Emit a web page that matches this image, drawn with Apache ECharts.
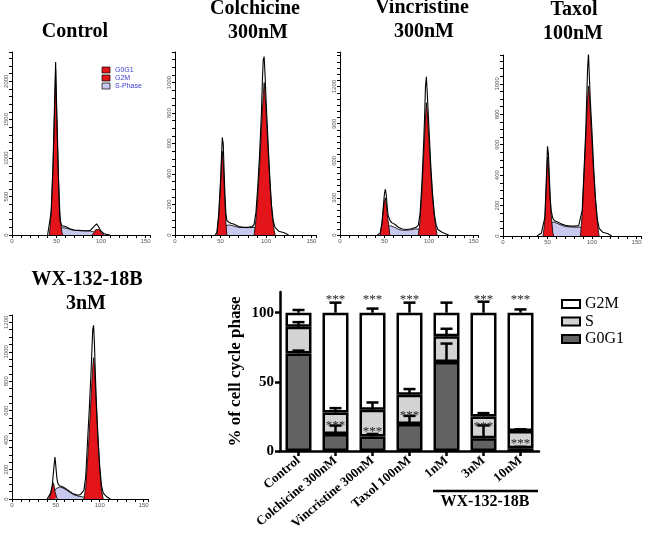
<!DOCTYPE html>
<html><head><meta charset="utf-8">
<script src="https://cdn.jsdelivr.net/npm/echarts@6/dist/echarts.min.js"></script>
<style>html,body{margin:0;padding:0;background:#fff}#c{width:648px;height:535px}</style>
</head><body><div id="c"></div>
<script>
// ---------- Histogram data: [DNA channel, count] ----------
var ctrlTotal = [[40,0],[42,20],[44,300],[46,900],[48,1800],[49,2250],[50,1750],[52,850],[53,400],[54,180],[56,120],[60,110],[65,80],[70,65],[75,60],[80,55],[85,55],[88,60],[90,70],[92,110],[95,145],[97,110],[100,50],[103,20],[106,8],[110,0]];
var ctrlG0G1 = [[42,0],[44,300],[46,850],[48,1700],[49,2150],[50,1650],[52,800],[54,250],[56,40],[57,0]];
var ctrlG2M = [[90,0],[92,30],[94,70],[96,95],[98,70],[100,35],[102,10],[103,0]];
var ctrlS = [[49,0],[51,50],[54,85],[57,95],[62,85],[66,70],[70,60],[80,55],[88,52],[92,40],[96,20],[99,0]];

var colTotal = [[44,0],[46,15],[48,130],[50,350],[51,500],[52,640],[53,600],[54,420],[55,250],[56,140],[57,95],[60,80],[65,70],[70,55],[75,50],[80,50],[85,55],[87,70],[89,150],[91,320],[93,530],[95,800],[96,1000],[97,1150],[98,1170],[99,1050],[100,900],[102,650],[104,400],[106,200],[108,90],[110,50],[114,25],[120,15],[125,0]];
var colG0G1 = [[46,0],[48,120],[50,320],[51,450],[52,550],[53,480],[54,330],[55,200],[56,80],[57,0]];
var colG2M = [[87,0],[89,100],[91,250],[93,450],[95,700],[97,920],[98,1000],[99,920],[101,700],[103,480],[105,280],[107,120],[109,30],[110,0]];
var colS = [[51,0],[53,40],[56,62],[60,66],[65,58],[70,50],[80,48],[87,50],[91,45],[95,30],[99,10],[102,0]];

var vinTotal = [[42,0],[45,15],[47,90],[49,260],[50,340],[51,370],[52,320],[53,230],[54,160],[56,120],[58,100],[62,85],[66,60],[70,48],[75,45],[80,50],[85,60],[88,80],[90,180],[92,420],[94,750],[95,950],[96,1200],[97,1280],[98,1150],[99,1000],[100,850],[102,560],[104,330],[106,170],[108,80],[110,45],[115,20],[122,0]];
var vinG0G1 = [[45,0],[47,80],[49,220],[50,280],[51,300],[52,250],[53,170],[55,60],[56,0]];
var vinG2M = [[88,0],[90,120],[92,350],[94,650],[96,950],[97,1070],[98,1000],[100,750],[102,500],[104,300],[106,150],[108,50],[109,0]];
var vinS = [[48,0],[51,40],[54,70],[57,75],[62,60],[66,45],[70,38],[78,40],[85,50],[90,45],[95,25],[100,8],[102,0]];

var taxTotal = [[38,0],[40,10],[43,18],[45,25],[47,120],[49,430],[50,590],[51,540],[52,400],[53,250],[54,170],[56,115],[58,100],[62,90],[66,78],[70,70],[75,65],[80,65],[85,68],[87,80],[89,170],[91,430],[93,700],[94,900],[95,1100],[96,1200],[97,1050],[98,900],[100,680],[102,430],[104,240],[106,110],[108,50],[112,25],[118,15],[122,0]];
var taxG0G1 = [[45,0],[47,100],[49,380],[50,520],[51,470],[52,350],[54,150],[56,20],[57,0]];
var taxG2M = [[87,0],[89,150],[91,400],[93,650],[95,900],[96,985],[97,930],[99,720],[101,500],[103,300],[105,150],[107,40],[108,0]];
var taxS = [[49,0],[51,50],[54,85],[57,92],[62,80],[66,70],[70,62],[80,58],[88,58],[92,45],[96,30],[100,10],[102,0]];

var wxTotal = [[40,0],[42,10],[44,40],[46,100],[48,230],[49,285],[50,220],[51,150],[52,110],[54,90],[57,85],[60,75],[65,55],[70,35],[75,25],[78,30],[80,40],[82,60],[84,150],[86,380],[88,600],[90,850],[91,1000],[92,1150],[93,1180],[94,1050],[95,850],[96,680],[98,420],[100,220],[102,90],[104,40],[108,15],[112,0]];
var wxG0G1 = [[42,0],[44,30],[46,80],[47,110],[48,90],[49,50],[51,10],[52,0]];
var wxG2M = [[82,0],[84,80],[86,250],[88,450],[90,680],[92,900],[93,960],[94,900],[96,650],[98,400],[100,200],[102,60],[104,0]];
var wxS = [[44,0],[47,40],[50,70],[54,82],[58,75],[62,60],[66,45],[70,30],[75,20],[80,15],[84,8],[88,0]];

// ---------- Bar chart data ----------
var categories = ['Control','Colchicine 300nM','Vincristine 300nM','Taxol 100nM','1nM','3nM','10nM'];
var g0g1 = [70.5, 12.3, 10.4, 19.6, 64.4, 9.2, 2.0];
var g0g1Err = [2.1, 6.1, 1.9, 5.8, 13.3, 9.3, 1.0];
var sPhase = [19.3, 15.5, 19.4, 21.1, 18.6, 15.8, 12.5];
var sErr = [3.4, 3.2, 5.3, 4.1, 5.4, 2.4, 1.2];
var g2m = [10.2, 72.2, 70.2, 59.3, 17.0, 75.0, 85.5];
var g2mErr = [2.0, 7.3, 3.0, 7.3, 7.3, 8.0, 2.4];
var topStarIdx = [1, 2, 3, 5, 6];
var topStarVal = [111.5, 111.5, 111.5, 111.5, 111.5];
var innerStarIdx = [1, 2, 3, 5, 6];
var innerStarVal = [20.6, 16.3, 27.9, 19.6, 7.6];
var yTicks = [0, 50, 100];

// ---------- Layout ----------
var SERIF = '"Liberation Serif","Times New Roman",serif';
var panels = [
  {grid:{left:12,top:52,width:138,height:183}, ymax:2380, yint:500, ysplit:5, d:[ctrlS, ctrlG0G1, ctrlG2M, ctrlTotal]},
  {grid:{left:175,top:52,width:141,height:183}, ymax:1200, yint:200, ysplit:4, d:[colS, colG0G1, colG2M, colTotal]},
  {grid:{left:340,top:52,width:138,height:183}, ymax:1480, yint:300, ysplit:6, d:[vinS, vinG0G1, vinG2M, vinTotal]},
  {grid:{left:503,top:55,width:138,height:181}, ymax:1190, yint:200, ysplit:4, d:[taxS, taxG0G1, taxG2M, taxTotal]},
  {grid:{left:12,top:315,width:136,height:184}, ymax:1250, yint:200, ysplit:4, d:[wxS, wxG0G1, wxG2M, wxTotal]}
];
var titles = [
  ['Control', 75, 32], ['Colchicine', 255, 9], ['300nM', 258, 33],
  ['Vincristine', 422, 8], ['300nM', 424, 32], ['Taxol', 574, 10], ['100nM', 573, 34],
  ['WX-132-18B', 87, 280], ['3nM', 86, 304]
];

var grids = [], xAxes = [], yAxes = [], series = [];
panels.forEach(function(p, i){
  grids.push(p.grid);
  xAxes.push({type:'value', gridIndex:i, min:0, max:155, interval:50,
    axisLine:{show:true, lineStyle:{color:'#000', width:1}},
    axisTick:{show:true, length:3, lineStyle:{color:'#000', width:1}},
    minorTick:{show:true, splitNumber:5, length:3, lineStyle:{color:'#000', width:1}},
    splitLine:{show:false},
    axisLabel:{fontSize:6, color:'#555', margin:3, showMaxLabel:false, fontFamily:'Arial',
      formatter:function(v){ return String(v); }}});
  yAxes.push({type:'value', gridIndex:i, min:0, max:p.ymax, interval:p.yint,
    axisLine:{show:true, lineStyle:{color:'#000', width:1}},
    axisTick:{show:true, length:3, lineStyle:{color:'#000', width:1}},
    minorTick:{show:true, splitNumber:p.ysplit, length:3, lineStyle:{color:'#000', width:1}},
    splitLine:{show:false},
    axisLabel:{fontSize:6, color:'#555', margin:3, rotate:90, showMaxLabel:false, fontFamily:'Arial',
      formatter:function(v){ return String(v); }}});
  var fills = ['#c9c9ef', '#e3151b', '#e3151b', null];
  p.d.forEach(function(arr, k){
    var s = {type:'line', xAxisIndex:i, yAxisIndex:i, data:arr, symbol:'none', silent:true,
      lineStyle:{color:'#000', width: k===3 ? 1.1 : 0.8}, z: 2 + k};
    if (fills[k]) s.areaStyle = {color:fills[k], opacity:1};
    series.push(s);
  });
});

// bar chart grid
var bi = panels.length;
grids.push({left:280, top:292, width:259, height:159});
xAxes.push({type:'category', gridIndex:bi, data:categories,
  axisLine:{lineStyle:{color:'#000', width:2.5}},
  axisTick:{show:true, alignWithLabel:true, length:5, lineStyle:{color:'#000', width:2.5}},
  axisLabel:{rotate:40, interval:0, fontFamily:SERIF, fontWeight:'bold', fontSize:13, color:'#000', margin:8}});
yAxes.push({type:'value', gridIndex:bi, min:0, max:115, interval:50,
  name:'% of cell cycle phase', nameLocation:'middle', nameGap:36,
  nameTextStyle:{fontFamily:SERIF, fontWeight:'bold', fontSize:17, color:'#000'},
  axisLine:{show:true, lineStyle:{color:'#000', width:2.5}},
  axisTick:{show:true, length:5, lineStyle:{color:'#000', width:2.5}},
  splitLine:{show:false},
  axisLabel:{fontFamily:SERIF, fontWeight:'bold', fontSize:15, color:'#000', margin:6, showMaxLabel:false,
    formatter:function(v){ return yTicks.indexOf(v) >= 0 ? String(v) : ''; }}});

function barSeries(name, data, color){
  return {type:'bar', name:name, stack:'cc', xAxisIndex:bi, yAxisIndex:bi, data:data, barWidth:26,
    itemStyle:{color:color, borderColor:'#000', borderWidth:2.5}, silent:true, z:3};
}
series.push(barSeries('G0G1', g0g1, '#626262'));
series.push(barSeries('S', sPhase, '#d3d3d3'));
series.push(barSeries('G2M', g2m, '#ffffff'));

var errData = [];
categories.forEach(function(c, i){
  var t1 = g0g1[i], t2 = g0g1[i] + sPhase[i], t3 = t2 + g2m[i];
  errData.push([i, t1, t1 + g0g1Err[i]]);
  errData.push([i, t2, t2 + sErr[i]]);
  errData.push([i, t3, t3 + g2mErr[i]]);
});
series.push({type:'custom', xAxisIndex:bi, yAxisIndex:bi, data:errData, silent:true, z:5,
  renderItem:function(params, api){
    var x = api.value(0);
    var p0 = api.coord([x, api.value(1)]), p1 = api.coord([x, api.value(2)]);
    var hw = 6;
    return {type:'group', children:[
      {type:'line', shape:{x1:p0[0], y1:p0[1], x2:p1[0], y2:p1[1]}, style:{stroke:'#000', lineWidth:2.5}},
      {type:'line', shape:{x1:p1[0]-hw, y1:p1[1], x2:p1[0]+hw, y2:p1[1]}, style:{stroke:'#000', lineWidth:2.5}}
    ]};
  }});

var starData = [];
topStarIdx.forEach(function(c, i){ starData.push([c, topStarVal[i]]); });
innerStarIdx.forEach(function(c, i){ starData.push([c, innerStarVal[i]]); });
series.push({type:'custom', xAxisIndex:bi, yAxisIndex:bi, data:starData, silent:true, z:6,
  renderItem:function(params, api){
    var p = api.coord([api.value(0), api.value(1)]);
    return {type:'text', style:{text:'***', x:p[0], y:p[1] + 3, align:'center', verticalAlign:'middle',
      fontFamily:SERIF, fontSize:13, fill:'#222'}};
  }});

var graphics = [];
titles.forEach(function(t){
  graphics.push({type:'text', silent:true, style:{text:t[0], x:t[1], y:t[2], align:'center', verticalAlign:'middle',
    fontFamily:SERIF, fontWeight:'bold', fontSize:20, fill:'#000'}});
});
// small legend of the Control histogram
var hLeg = [['G0G1', '#e3151b'], ['G2M', '#e3151b'], ['S-Phase', '#c9c9ef']];
hLeg.forEach(function(h, k){
  graphics.push({type:'rect', silent:true, shape:{x:102, y:67 + k*8, width:8, height:6},
    style:{fill:h[1], stroke:'#000', lineWidth:0.7}});
  graphics.push({type:'text', silent:true, style:{text:h[0], x:115, y:70 + k*8, align:'left', verticalAlign:'middle',
    fontFamily:'Arial', fontSize:7, fill:'#3a3ad0'}});
});
// group label under bar chart
graphics.push({type:'line', silent:true, shape:{x1:433, y1:491, x2:538, y2:491}, style:{stroke:'#000', lineWidth:2.5}});
graphics.push({type:'text', silent:true, style:{text:'WX-132-18B', x:485, y:502, align:'center', verticalAlign:'middle',
  fontFamily:SERIF, fontWeight:'bold', fontSize:16, fill:'#000'}});

var chart = echarts.init(document.getElementById('c'), null, {renderer:'canvas', width:648, height:535});
chart.setOption({
  animation:false,
  backgroundColor:'#fff',
  grid:grids, xAxis:xAxes, yAxis:yAxes, series:series, graphic:graphics,
  legend:{data:['G2M','S','G0G1'], orient:'vertical', left:556, top:291, itemWidth:18, itemHeight:8, itemGap:1.5,
    icon:'rect', selectedMode:false,
    textStyle:{fontFamily:SERIF, fontSize:16, color:'#000'}}
});
</script></body></html>
